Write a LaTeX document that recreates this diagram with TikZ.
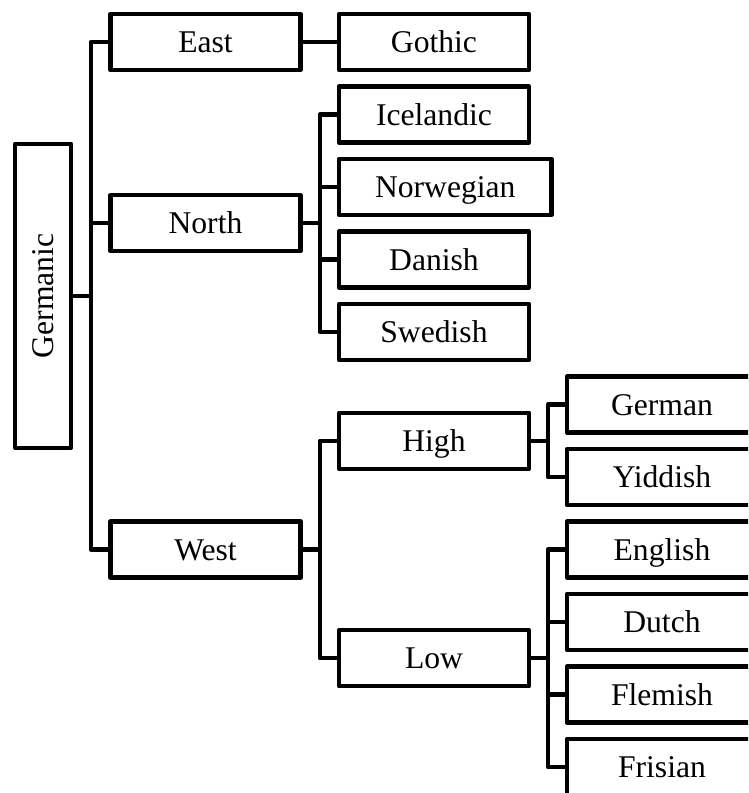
\documentclass[tikz,border=0pt]{standalone}
\usepackage{fontspec}
\usepackage{graphicx}
\setmainfont{Liberation Serif}

\tikzset{
    box/.style={draw, line width=2.5pt, line join=round, outer sep=0pt, anchor=west,
        font=\fontsize{18}{22}\selectfont},
    lang/.style={box, minimum width=3.8cm, minimum height=1.12cm, inner xsep=0.72cm,
        text height=12pt, text depth=0pt},
    branch/.style={line width=2.5pt, line join=round}
}

\begin{document}
\begin{tikzpicture}[x=0.02cm, y=-0.02cm]
    \clip (0,0) rectangle (748,793);

    % root
    \node[box, minimum width=1.12cm, minimum height=6.08cm] (germanic) at (15,295.75) {\rotatebox{90}{Germanic}};

    % first split
    \node[lang] (east) at (110.5,42) {East};
    \node[lang] (north) at (110.5,223.25) {North};
    \node[lang] (west) at (110.5,549.5) {West};

    % second column
    \node[lang] (gothic) at (339,42) {Gothic};
    \foreach \name/\txt [count=\i] in {icelandic/Icelandic,norwegian/Norwegian,danish/Danish,swedish/Swedish}{
            \node[lang] (\name) at (339,{42+72.5*\i}) {\txt};
    }
    \node[lang] (high) at (339,440.75) {High};
    \node[lang] (low) at (339,658.25) {Low};

    % third column
    \foreach \name/\txt [count=\i] in {german/German,yiddish/Yiddish,english/English,dutch/Dutch,flemish/Flemish,frisian/Frisian}{
            \node[lang] (\name) at (567,{332+72.5*\i}) {\txt};
    }

    % branches
    \foreach \kid in {east,north,west}{
            \draw[branch] (germanic.east) -- ++(19.75,0) |- (\kid.west);
    }
    \draw[branch] (east.east) -- (gothic.west);
    \foreach \kid in {icelandic,norwegian,danish,swedish}{
            \draw[branch] (north.east) -- ++(19.25,0) |- (\kid.west);
    }
    \foreach \kid in {high,low}{
            \draw[branch] (west.east) -- ++(19.25,0) |- (\kid.west);
    }
    \foreach \kid in {german,yiddish}{
            \draw[branch] (high.east) -- ++(19,0) |- (\kid.west);
    }
    \foreach \kid in {english,dutch,flemish,frisian}{
            \draw[branch] (low.east) -- ++(19,0) |- (\kid.west);
    }

\end{tikzpicture}
\end{document}
